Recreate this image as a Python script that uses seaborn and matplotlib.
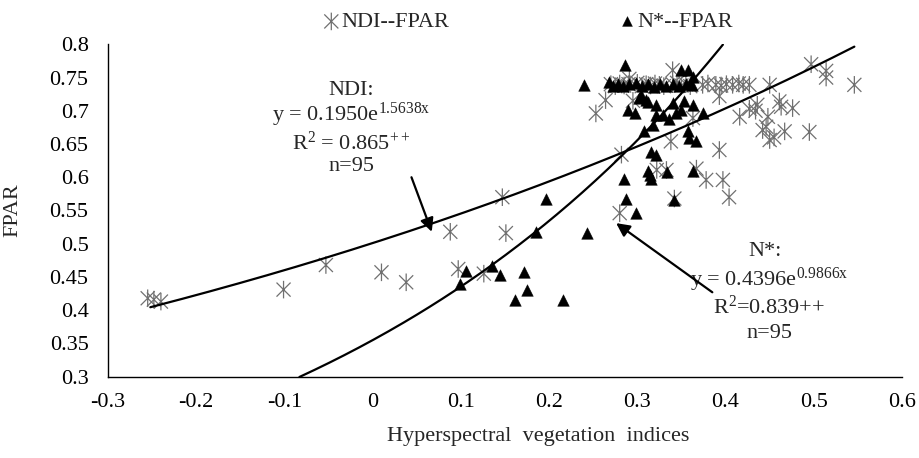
import numpy as np
import matplotlib
matplotlib.use("Agg")
import matplotlib.pyplot as plt
from matplotlib.path import Path
import seaborn as sns

# NDI vs FPAR (asterisks)
ndi_x = [-0.255, -0.248, -0.240, -0.101, -0.053, 0.010, 0.038, 0.088, 0.097, 0.126, 0.147, 0.151,
         0.253, 0.264, 0.280, 0.282, 0.291, 0.295, 0.322, 0.333, 0.338, 0.340, 0.342, 0.363,
         0.367, 0.378, 0.393, 0.393, 0.397, 0.404,
         0.270, 0.275, 0.280, 0.285, 0.290, 0.300, 0.305, 0.310, 0.315, 0.320, 0.325, 0.330,
         0.340, 0.345, 0.350, 0.355, 0.360, 0.374, 0.380, 0.389, 0.395, 0.401, 0.408, 0.415,
         0.420, 0.427,
         0.416, 0.427, 0.434, 0.436, 0.442, 0.446, 0.448, 0.450, 0.450, 0.455, 0.461, 0.463,
         0.467, 0.476, 0.495, 0.497, 0.514, 0.514, 0.546]
ndi_y = [0.418, 0.416, 0.413, 0.431, 0.468, 0.457, 0.442, 0.518, 0.462, 0.455, 0.570, 0.516,
         0.696, 0.716, 0.546, 0.634, 0.748, 0.715, 0.611, 0.611, 0.654, 0.761, 0.568, 0.689,
         0.613, 0.596, 0.641, 0.722, 0.596, 0.570,
         0.740, 0.737, 0.741, 0.738, 0.740, 0.742, 0.737, 0.740, 0.738, 0.741, 0.739, 0.737,
         0.740, 0.742, 0.738, 0.740, 0.737, 0.739, 0.741, 0.739, 0.738, 0.740, 0.739, 0.741,
         0.739, 0.739,
         0.691, 0.703, 0.700, 0.709, 0.671, 0.676, 0.691, 0.739, 0.656, 0.660, 0.714, 0.706,
         0.669, 0.704, 0.668, 0.770, 0.760, 0.750, 0.739]

# N* vs FPAR (triangles)
nst_x = [0.099, 0.106, 0.135, 0.144, 0.171, 0.175, 0.161, 0.216, 0.185, 0.197, 0.243,
         0.240, 0.268, 0.286, 0.285, 0.287, 0.299, 0.316, 0.321, 0.312, 0.316, 0.314, 0.334,
         0.363, 0.342, 0.357, 0.359, 0.367, 0.308, 0.318, 0.289, 0.297, 0.302, 0.310, 0.312,
         0.321, 0.321, 0.329, 0.336, 0.340, 0.344, 0.350, 0.353, 0.363, 0.374, 0.350, 0.357,
         0.363, 0.304,
         0.272, 0.278, 0.284, 0.291, 0.298, 0.305, 0.312, 0.319, 0.326, 0.333, 0.340, 0.347,
         0.355, 0.362]
nst_y = [0.440, 0.459, 0.467, 0.453, 0.457, 0.430, 0.415, 0.415, 0.518, 0.567, 0.516,
         0.739, 0.743, 0.769, 0.598, 0.568, 0.546, 0.638, 0.633, 0.609, 0.598, 0.603, 0.608,
         0.610, 0.566, 0.669, 0.659, 0.654, 0.670, 0.679, 0.701, 0.696, 0.719, 0.716, 0.713,
         0.709, 0.694, 0.694, 0.687, 0.711, 0.697, 0.701, 0.714, 0.709, 0.696, 0.761, 0.761,
         0.751, 0.724,
         0.738, 0.741, 0.737, 0.740, 0.742, 0.738, 0.740, 0.736, 0.741, 0.738, 0.740, 0.737,
         0.741, 0.739]

# exponential trendlines as drawn (a*exp(b*x)) and their x ranges
ndi_a, ndi_b, ndi_range = 0.501, 0.849, (-0.252, 0.546)
nst_a, nst_b, nst_range = 0.355, 2.045, (-0.083, 0.397)

x_ticks = [-0.3, -0.2, -0.1, 0, 0.1, 0.2, 0.3, 0.4, 0.5, 0.6]
x_labels = ["-0.3", "-0.2", "-0.1", "0", "0.1", "0.2", "0.3", "0.4", "0.5", "0.6"]
y_ticks = [0.3, 0.35, 0.4, 0.45, 0.5, 0.55, 0.6, 0.65, 0.7, 0.75, 0.8]
y_labels = ["0.3", "0.35", "0.4", "0.45", "0.5", "0.55", "0.6", "0.65", "0.7", "0.75", "0.8"]

sns.set_style("white")
plt.rcParams["font.family"] = ["Liberation Serif", "DejaVu Serif"]
plt.rcParams["mathtext.fontset"] = "custom"
plt.rcParams["mathtext.rm"] = "Liberation Serif"
plt.rcParams["mathtext.it"] = "Liberation Serif:italic"

star = Path([(-1, -1), (1, 1), (-1, 1), (1, -1), (0, -1.25), (0, 1.25)],
            [Path.MOVETO, Path.LINETO, Path.MOVETO, Path.LINETO, Path.MOVETO, Path.LINETO])

fig = plt.figure(figsize=(9.19, 4.58), dpi=100)
ax = fig.add_axes([0.1175, 0.1775, 0.864, 0.7258])

sns.scatterplot(x=ndi_x, y=ndi_y, marker=star, s=160, facecolor="none",
                edgecolor="#707070", linewidth=0.9, ax=ax, label="NDI--FPAR", legend=False)
sns.scatterplot(x=nst_x, y=nst_y, marker="^", s=70, color="black", edgecolor="black",
                linewidth=0.3, ax=ax, label="N*--FPAR", legend=False)

xx = np.linspace(ndi_range[0], ndi_range[1], 200)
ax.plot(xx, ndi_a * np.exp(ndi_b * xx), color="black", lw=1.6)
xx = np.linspace(nst_range[0], nst_range[1], 200)
ax.plot(xx, nst_a * np.exp(nst_b * xx), color="black", lw=1.6)

ax.set_xlim(-0.3, 0.6)
ax.set_ylim(0.3, 0.8)
ax.set_xticks(x_ticks)
ax.set_xticklabels(x_labels)
ax.set_yticks(y_ticks)
ax.set_yticklabels(y_labels)
ax.tick_params(direction="in", length=6, width=1, labelsize=16, colors="black")
ax.tick_params(axis="y", pad=14)
ax.tick_params(axis="x", pad=12)
sns.despine(ax=ax)
for s in ["left", "bottom"]:
    ax.spines[s].set_color("black")
    ax.spines[s].set_linewidth(1)

ax.set_xlabel("Hyperspectral  vegetation  indices", fontsize=16)
ax.xaxis.set_label_coords(0.5416, -0.15)
ax.set_ylabel("FPAR", fontsize=16)
ax.yaxis.set_label_coords(-0.108, 0.5)

# equation annotations
fs = 16
ax.text(-0.024, 0.731, "NDI:", ha="center", va="center", fontsize=fs)
ax.text(-0.024, 0.6935, r"y = 0.1950e$^{\mathrm{1.5638x}}$", ha="center", va="center", fontsize=fs)
ax.text(-0.024, 0.651, r"R$^{\mathrm{2}}$ = 0.865$^{\mathrm{++}}$", ha="center", va="center", fontsize=fs)
ax.text(-0.024, 0.6155, "n=95", ha="center", va="center", fontsize=fs)

ax.text(0.445, 0.4876, "N*:", ha="center", va="center", fontsize=fs)
ax.text(0.4497, 0.4455, r"y = 0.4396e$^{\mathrm{0.9866x}}$", ha="center", va="center", fontsize=fs)
ax.text(0.4497, 0.4048, r"R$^{\mathrm{2}}$=0.839++", ha="center", va="center", fontsize=fs)
ax.text(0.4497, 0.3657, "n=95", ha="center", va="center", fontsize=fs)

arrow = dict(arrowstyle="-|>", color="black", lw=1.6, mutation_scale=20, shrinkA=0, shrinkB=0)
ax.annotate("", xy=(0.067, 0.518), xytext=(0.044, 0.600), arrowprops=arrow)
ax.annotate("", xy=(0.276, 0.531), xytext=(0.385, 0.427), arrowprops=arrow)

handles, labels = ax.get_legend_handles_labels()
leg = fig.legend(handles, labels, loc="center", bbox_to_anchor=(0.574, 0.952), ncol=2,
                 frameon=False, fontsize=16, handlelength=0.8, handletextpad=0.05,
                 columnspacing=7.6, borderpad=0)
leg.legend_handles[1].set_sizes([50])

fig.savefig("out.png", dpi=100, facecolor="white")
